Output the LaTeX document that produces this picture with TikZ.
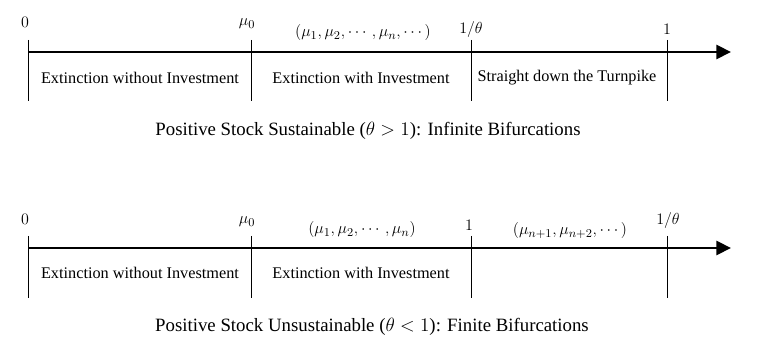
\documentclass[tikz,border=0pt]{standalone}
\usepackage{amsmath}
\usepackage{fontspec}
\setmainfont{Liberation Serif}
\usetikzlibrary{arrows.meta}

\begin{document}
\begin{tikzpicture}[x=0.75pt,y=-0.75pt,
        axis/.style={line width=2.2pt,-{Triangle[length=11pt,width=10.5pt]}},
        tickline/.style={line width=0.7pt},
        ptlabel/.style={font=\fontsize{12.6}{14}\selectfont,inner sep=0pt},
        region/.style={font=\fontsize{12.2}{14}\selectfont,inner sep=0pt},
        caption/.style={font=\fontsize{14.1}{16}\selectfont,inner sep=0pt}
      ]
        \useasboundingbox (0,0) rectangle (769,359);
        % theta > 1
        \coordinate (s1) at (28,52); \coordinate (e1) at (731,52);
        \draw[axis] (s1) -- (e1);
        \foreach \x/\n in {28/a,251/b,471/c,667/d}{
          \coordinate (u\n) at (\x,40); \coordinate (v\n) at (\x,101);
          \draw[tickline] (u\n) -- (v\n);
        }
        \node[ptlabel] (z1) at (25,22) {$0$};
        \node[ptlabel] (m1) at (247,24) {$\mu_0$};
        \node[ptlabel] (seq1) at (363,33) {$(\mu_1,\mu_2,\cdots,\mu_n,\cdots)$};
        \node[ptlabel] (th1) at (471,30) {$1/\theta$};
        \node[ptlabel] (one1) at (667,29) {$1$};
        \node[region] (r1a) at (140,78) {Extinction without Investment};
        \node[region] (r1b) at (361,78) {Extinction with Investment};
        \node[region] (r1c) at (567,78) {Straight down the Turnpike};
        \node[caption] (c1) at (368,131) {Positive Stock Sustainable ($\theta>1$): Infinite Bifurcations};
        % theta < 1
        \coordinate (s2) at (28,248); \coordinate (e2) at (731,248);
        \draw[axis] (s2) -- (e2);
        \foreach \x/\n in {28/a,251/b,471/c,667/d}{
          \coordinate (p\n) at (\x,236); \coordinate (q\n) at (\x,298);
          \draw[tickline] (p\n) -- (q\n);
        }
        \node[ptlabel] (z2) at (25,219) {$0$};
        \node[ptlabel] (m2) at (247,222) {$\mu_0$};
        \node[ptlabel] (seq2) at (362,230) {$(\mu_1,\mu_2,\cdots,\mu_n)$};
        \node[ptlabel] (one2) at (469,225) {$1$};
        \node[ptlabel] (seq3) at (570,231) {$(\mu_{n+1},\mu_{n+2},\cdots)$};
        \node[ptlabel] (th2) at (668,221) {$1/\theta$};
        \node[region] (r2a) at (140,273) {Extinction without Investment};
        \node[region] (r2b) at (361,273) {Extinction with Investment};
        \node[caption] (c2) at (372,327) {Positive Stock Unsustainable ($\theta<1$): Finite Bifurcations};
      \end{tikzpicture}
\end{document}
